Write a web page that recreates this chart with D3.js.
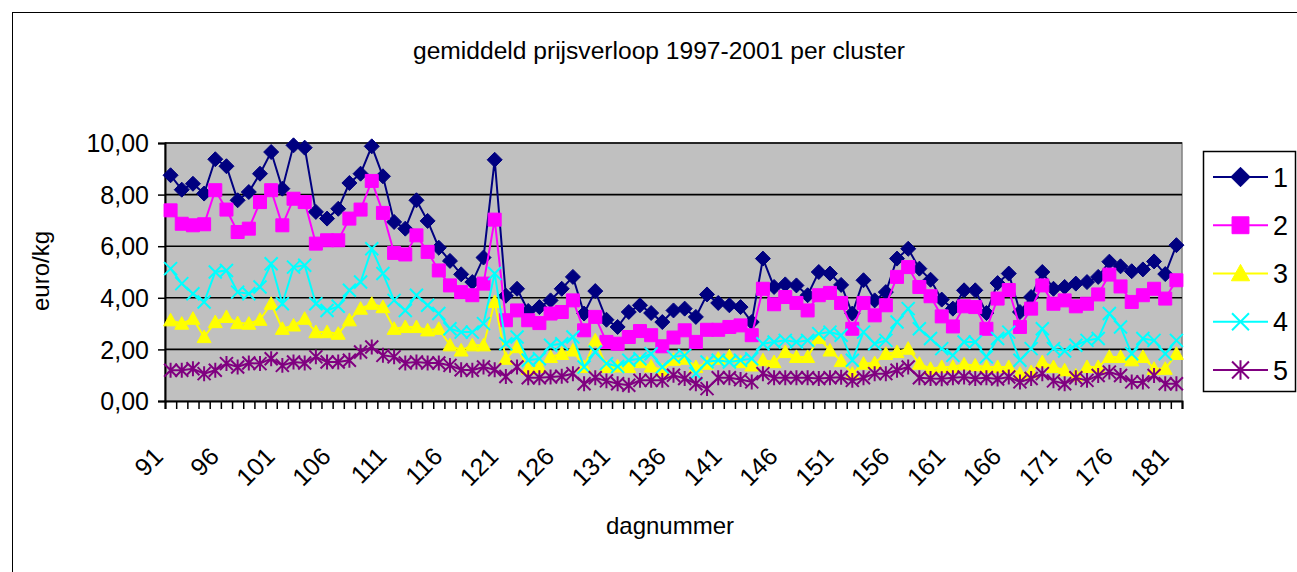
<!DOCTYPE html>
<html><head><meta charset="utf-8">
<script src="https://cdn.jsdelivr.net/npm/d3@7"></script>
<style>
body{margin:0;background:#fff}
svg{display:block}
text{font-family:Arial,"Liberation Sans",sans-serif;fill:#000}
</style>
</head><body>
<svg id="chart" width="1297" height="572"></svg>
<script>
// ---------- DATA ----------
const days = [91,92,93,94,95,96,97,98,99,100,101,102,103,104,105,106,107,108,109,110,
111,112,113,114,115,116,117,118,119,120,121,122,123,124,125,126,127,128,129,130,
131,132,133,134,135,136,137,138,139,140,141,142,143,144,145,146,147,148,149,150,
151,152,153,154,155,156,157,158,159,160,161,162,163,164,165,166,167,168,169,170,
171,172,173,174,175,176,177,178,179,180,181];
const xTickLabels = ["91","96","101","106","111","116","121","126","131","136","141","146","151","156","161","166","171","176","181"];
const yTickValues = [0,2,4,6,8,10];
const seriesNames = ["1","2","3","4","5"];

const cluster1 = [8.75,8.19,8.42,8.04,9.37,9.10,7.78,8.10,8.81,9.65,8.23,9.91,9.82,7.33,7.07,7.45,8.45,8.81,9.87,8.71,
6.94,6.68,7.78,6.98,5.94,5.43,4.91,4.61,5.56,9.35,4.08,4.35,3.49,3.64,3.90,4.35,4.81,3.39,4.26,3.15,
2.87,3.45,3.71,3.41,3.06,3.51,3.58,3.26,4.13,3.80,3.71,3.64,3.06,5.52,4.42,4.52,4.48,4.10,5.00,4.94,
4.50,3.39,4.68,3.90,4.22,5.52,5.90,5.13,4.70,3.93,3.58,4.29,4.29,3.41,4.57,4.94,3.45,4.03,5.00,4.35,
4.42,4.55,4.61,4.81,5.40,5.22,5.03,5.10,5.41,4.92,6.04];
const cluster2 = [7.39,6.87,6.81,6.85,8.17,7.42,6.55,6.68,7.71,8.17,6.81,7.84,7.71,6.10,6.23,6.23,7.07,7.42,8.53,7.29,
5.74,5.68,6.42,5.78,5.06,4.48,4.22,4.10,4.55,7.03,3.13,3.51,3.13,3.02,3.39,3.45,3.90,2.74,3.26,2.29,
2.22,2.48,2.71,2.55,2.12,2.46,2.74,2.29,2.76,2.76,2.87,2.93,2.55,4.35,3.75,4.03,3.80,3.51,4.10,4.19,
3.80,2.80,3.80,3.32,3.71,4.81,5.19,4.42,4.06,3.28,2.89,3.67,3.64,2.80,3.97,4.30,2.87,3.58,4.48,3.77,
3.90,3.67,3.77,4.13,4.90,4.44,3.84,4.10,4.35,3.97,4.68];
const cluster3 = [3.13,3.00,3.19,2.48,3.06,3.26,3.02,3.00,3.15,3.77,2.80,2.93,3.19,2.67,2.67,2.61,3.13,3.58,3.77,3.64,
2.80,2.87,2.87,2.74,2.80,2.16,1.96,2.16,2.16,3.84,1.64,2.09,1.25,1.32,1.71,1.83,1.96,1.32,2.35,1.32,
1.34,1.32,1.51,1.34,1.19,1.60,1.64,1.32,1.45,1.64,1.73,1.51,1.38,1.58,1.51,1.90,1.71,1.71,2.45,1.96,
1.55,1.06,1.45,1.47,1.83,1.90,2.03,1.45,1.25,1.32,1.32,1.42,1.38,1.32,1.32,1.32,1.06,1.12,1.51,1.32,
1.19,0.99,1.32,1.32,1.71,1.71,1.58,1.71,1.25,1.25,1.83];
const cluster4 = [5.13,4.55,4.16,3.84,5.00,5.06,4.22,4.16,4.42,5.32,3.77,5.19,5.26,3.77,3.51,3.67,4.29,4.61,5.90,4.94,
3.90,3.51,4.10,3.71,3.39,2.80,2.67,2.67,3.00,4.94,2.22,2.48,1.58,1.64,2.16,2.22,2.48,1.32,1.90,1.45,
1.34,1.58,1.64,1.83,1.32,1.71,1.77,1.06,1.51,1.58,1.51,1.58,1.64,2.22,2.29,2.35,2.29,2.35,2.61,2.67,
2.55,1.58,2.67,2.22,2.35,3.06,3.58,2.80,2.42,2.03,1.77,2.29,2.29,1.71,2.42,2.67,1.58,2.03,2.80,2.03,
1.94,2.16,2.35,2.42,3.39,2.87,1.83,2.42,2.35,1.83,2.35];
const cluster5 = [1.19,1.19,1.25,1.06,1.19,1.45,1.32,1.47,1.45,1.64,1.38,1.51,1.47,1.71,1.51,1.51,1.58,1.90,2.09,1.77,
1.71,1.47,1.51,1.47,1.47,1.38,1.21,1.19,1.32,1.21,0.95,1.32,0.90,0.90,0.93,0.96,1.06,0.67,0.90,0.78,
0.67,0.61,0.80,0.80,0.80,1.00,0.87,0.67,0.48,0.90,0.90,0.83,0.74,1.06,0.90,0.90,0.90,0.90,0.87,0.90,
0.92,0.80,0.90,1.06,1.06,1.19,1.32,0.90,0.87,0.86,0.90,0.93,0.87,0.90,0.85,0.93,0.74,0.87,1.06,0.78,
0.67,0.90,0.80,0.99,1.12,0.99,0.74,0.74,0.99,0.67,0.67];

const seriesValues = [cluster1, cluster2, cluster3, cluster4, cluster5];
const colors = ["#000080","#FF00FF","#FFFF00","#00FFFF","#800080"];
const shapes = ["diamond","square","triangle","x","star"];

// ---------- LAYOUT ----------
const svg = d3.select("#chart");
const L = 165, R = 1182, T = 143, B = 401;

// outer chart border
svg.append("rect").attr("x",12.5).attr("y",12.5).attr("width",1300).attr("height",600)
  .attr("fill","#fff").attr("stroke","#000").attr("stroke-width",1);

const x = d3.scaleBand().domain(days).range([L,R]).padding(0);
const xb = d3.scaleLinear().domain([0,days.length]).range([L,R]);
const y = d3.scaleLinear().domain([0,10]).range([B,T]);
const cx = d => x(d) + x.bandwidth()/2;

// plot area
svg.append("rect").attr("x",L).attr("y",T).attr("width",R-L).attr("height",B-T)
  .attr("fill","#C0C0C0").attr("stroke","#808080").attr("stroke-width",1.5);

// gridlines
svg.append("g").selectAll("line").data(yTickValues.filter(v=>v>0)).join("line")
  .attr("x1",L).attr("x2",R).attr("y1",d=>y(d)).attr("y2",d=>y(d))
  .attr("stroke","#000").attr("stroke-width",1.6);

// y axis
const yAxis = d3.axisLeft(y).tickValues(yTickValues).tickSize(7).tickPadding(9)
  .tickFormat(d => d.toFixed(2).replace(".",","));
const gy = svg.append("g").attr("transform",`translate(${L},0)`).call(yAxis);
gy.select(".domain").attr("stroke","#000").attr("stroke-width",2);
gy.selectAll(".tick line").attr("stroke","#000").attr("stroke-width",1.5);
gy.selectAll("text").style("font-size","25px").attr("dy","0.35em");

// x axis ticks at category boundaries
const xAxis = d3.axisBottom(xb).tickValues(d3.range(0,days.length+1)).tickSize(8).tickFormat("");
const gx = svg.append("g").attr("transform",`translate(0,${B})`).call(xAxis);
gx.select(".domain").attr("stroke","#000").attr("stroke-width",2);
gx.selectAll(".tick line").attr("stroke","#000").attr("stroke-width",1.5);

// x tick labels (rotated)
svg.append("g").selectAll("text").data(xTickLabels).join("text")
  .attr("transform", d => `translate(${cx(+d)-6},${458}) rotate(-45)`)
  .attr("text-anchor","end").style("font-size","25px").text(d=>d);

// titles
svg.append("text").attr("x",659).attr("y",59).attr("text-anchor","middle")
  .style("font-size","23px").attr("textLength",492).attr("lengthAdjust","spacingAndGlyphs")
  .text("gemiddeld prijsverloop 1997-2001 per cluster");
svg.append("text").attr("transform","translate(49,271) rotate(-90)").attr("text-anchor","middle")
  .style("font-size","24px").text("euro/kg");
svg.append("text").attr("x",670).attr("y",534).attr("text-anchor","middle")
  .style("font-size","24px").text("dagnummer");

// markers
function markerPath(shape, s){
  switch(shape){
    case "diamond": return `M0,${-s}L${s},0L0,${s}L${-s},0Z`;
    case "square": return `M${-s},${-s}H${s}V${s}H${-s}Z`;
    case "triangle": return `M0,${-s}L${s},${s*0.8}L${-s},${s*0.8}Z`;
    case "x": return `M${-s},${-s}L${s},${s}M${-s},${s}L${s},${-s}`;
    case "star": return `M${-s},${-s}L${s},${s}M${-s},${s}L${s},${-s}M0,${-s*1.15}V${s*1.15}`;
  }
}
function drawMarker(g, shape, color, s){
  const p = g.append("path").attr("d", markerPath(shape,s));
  if (shape==="x"||shape==="star") p.attr("fill","none").attr("stroke",color).attr("stroke-width",2);
  else p.attr("fill",color).attr("stroke",color).attr("stroke-width",1);
}
const msize = [7.5,6.5,7,6.5,6.5];

const line = d3.line().x((v,i)=>cx(days[i])).y(v=>y(v));
seriesValues.forEach((vals,si)=>{
  const g = svg.append("g");
  g.append("path").attr("d",line(vals)).attr("fill","none")
    .attr("stroke",colors[si]).attr("stroke-width",2);
  vals.forEach((v,i)=>{
    const mg = g.append("g").attr("transform",`translate(${cx(days[i])},${y(v)})`);
    drawMarker(mg, shapes[si], colors[si], msize[si]);
  });
});

// legend
const lg = svg.append("g");
lg.append("rect").attr("x",1203.5).attr("y",151.5).attr("width",92).attr("height",240)
  .attr("fill","#fff").attr("stroke","#000").attr("stroke-width",1.5);
const legY = d3.scalePoint().domain(seriesNames).range([177,370]);
seriesNames.forEach((n,si)=>{
  const yy = legY(n);
  lg.append("line").attr("x1",1213).attr("x2",1268).attr("y1",yy).attr("y2",yy)
    .attr("stroke",colors[si]).attr("stroke-width",2);
  const mg = lg.append("g").attr("transform",`translate(1240.5,${yy})`);
  drawMarker(mg, shapes[si], colors[si], msize[si]*1.3);
  lg.append("text").attr("x",1273).attr("y",yy).attr("dy","0.36em").style("font-size","27px").text(n);
});
</script>
</body></html>
